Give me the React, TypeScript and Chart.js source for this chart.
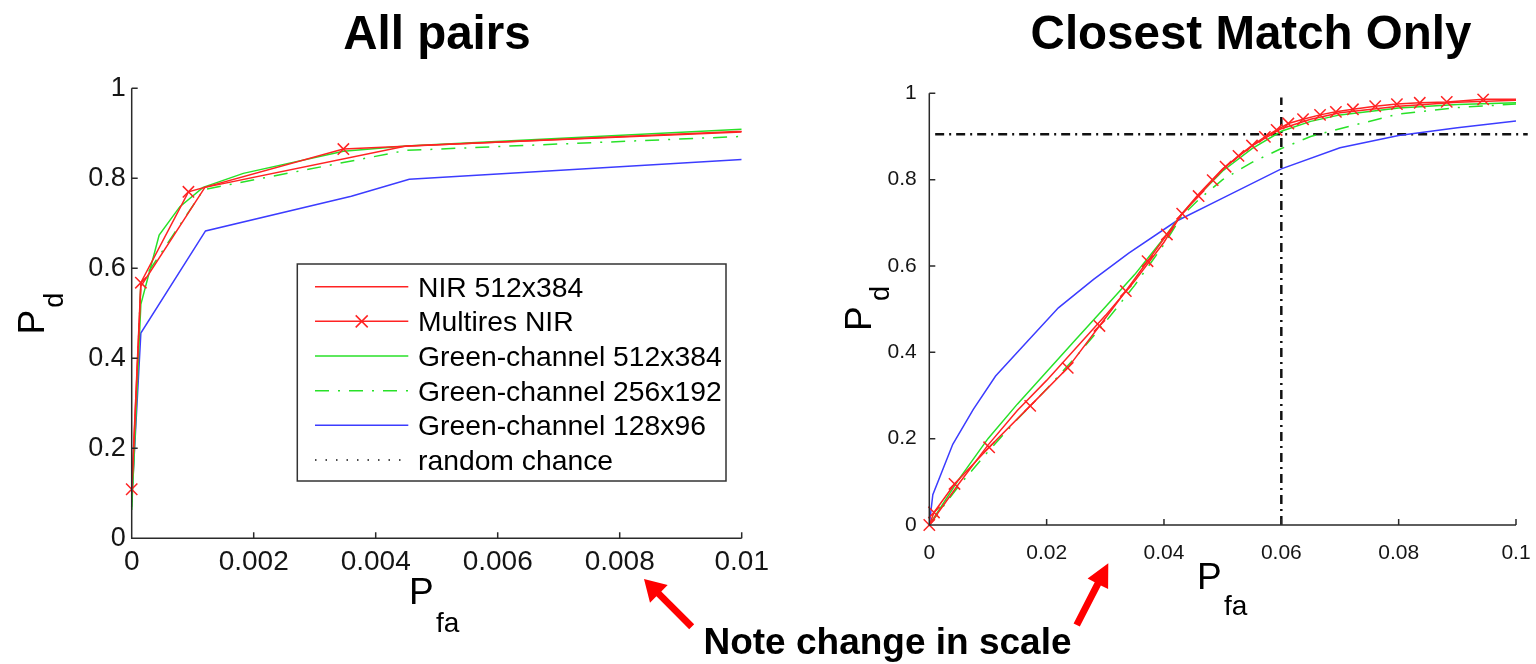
import React, { useEffect, useRef } from "react";
import { Chart, registerables } from "chart.js";

Chart.register(...registerables);

const FONT = "'Liberation Sans', Arial, Helvetica, sans-serif";

// ---------- shared ----------
const SERIES_NAMES = [
  "NIR 512x384",
  "Multires NIR",
  "Green-channel 512x384",
  "Green-channel 256x192",
  "Green-channel 128x96",
  "random chance",
];
const Y_TICKS = [0, 0.2, 0.4, 0.6, 0.8, 1];
const Y_TICK_LABELS = ["0", "0.2", "0.4", "0.6", "0.8", "1"];

// ---------- left panel: All pairs ----------
const LEFT_TITLE = "All pairs";
const LEFT_X_TICKS = [0, 0.002, 0.004, 0.006, 0.008, 0.01];
const LEFT_X_TICK_LABELS = ["0", "0.002", "0.004", "0.006", "0.008", "0.01"];

const L_NIR_X = [0, 0.00015, 0.0012, 0.0045, 0.01];
const L_NIR_Y = [0.1, 0.56, 0.78, 0.872, 0.903];
const L_MULTI_X = [0, 0.00015, 0.00093, 0.00347, 0.0125];
const L_MULTI_Y = [0.109, 0.568, 0.77, 0.865, 0.92];
const L_G512_X = [0, 0.00015, 0.00045, 0.00079, 0.00117, 0.00183, 0.00347, 0.0045, 0.01];
const L_G512_Y = [0.063, 0.52, 0.674, 0.737, 0.78, 0.811, 0.86, 0.872, 0.909];
const L_G256_X = [0, 0.00015, 0.00118, 0.0045, 0.01];
const L_G256_Y = [0.07, 0.567, 0.775, 0.862, 0.893];
const L_G128_X = [0, 0.00015, 0.00121, 0.0036, 0.00455, 0.01];
const L_G128_Y = [0.081, 0.456, 0.683, 0.76, 0.798, 0.842];

// ---------- right panel: Closest Match Only ----------
const RIGHT_TITLE = "Closest Match Only";
const RIGHT_X_TICKS = [0, 0.02, 0.04, 0.06, 0.08, 0.1];
const RIGHT_X_TICK_LABELS = ["0", "0.02", "0.04", "0.06", "0.08", "0.1"];

const R_CURVE_X = [0, 0.005, 0.01, 0.015, 0.02, 0.025, 0.03, 0.035, 0.04, 0.043, 0.046, 0.05, 0.055, 0.06, 0.065, 0.07, 0.08, 0.09, 0.1];
const R_NIR_Y = [0, 0.095, 0.185, 0.265, 0.335, 0.41, 0.485, 0.565, 0.655, 0.72, 0.768, 0.825, 0.878, 0.918, 0.94, 0.955, 0.97, 0.979, 0.984];
const R_G512_Y = [0, 0.105, 0.2, 0.28, 0.355, 0.43, 0.505, 0.58, 0.665, 0.72, 0.765, 0.82, 0.872, 0.912, 0.935, 0.95, 0.966, 0.974, 0.978];
const R_G256_Y = [0, 0.09, 0.17, 0.245, 0.315, 0.39, 0.47, 0.555, 0.65, 0.715, 0.755, 0.8, 0.84, 0.872, 0.9, 0.918, 0.952, 0.967, 0.975];
const R_MULTI_X = [0, 0.0008, 0.0043, 0.0102, 0.0172, 0.0236, 0.029, 0.0335, 0.0372, 0.0405, 0.0431, 0.0459, 0.0483, 0.0505, 0.0527, 0.055, 0.0572, 0.0592, 0.0612, 0.0637, 0.0666, 0.0693, 0.0722, 0.076, 0.0797, 0.0836, 0.0882, 0.0944, 0.1025];
const R_MULTI_Y = [0, 0.029, 0.095, 0.18, 0.276, 0.364, 0.461, 0.542, 0.611, 0.673, 0.721, 0.762, 0.799, 0.83, 0.855, 0.879, 0.899, 0.915, 0.93, 0.94, 0.95, 0.957, 0.963, 0.97, 0.975, 0.978, 0.98, 0.986, 0.986];
const R_G128_X = [0, 0.0006, 0.004, 0.0075, 0.0113, 0.0165, 0.022, 0.028, 0.034, 0.042, 0.05, 0.06, 0.07, 0.08, 0.09, 0.1];
const R_G128_Y = [0, 0.07, 0.187, 0.268, 0.345, 0.422, 0.503, 0.569, 0.63, 0.703, 0.757, 0.825, 0.874, 0.902, 0.92, 0.936];
const R_OPER_H_X = [0.001, 0.102];
const R_OPER_H_Y = [0.905, 0.905];
const R_OPER_V_X = [0.06, 0.06];
const R_OPER_V_Y = [0, 0.99];

const BOTTOM_NOTE = "Note change in scale";

// ---------- styles ----------
const RED = "rgb(255,35,35)";
const GREEN = "rgb(40,225,40)";
const BLUE = "rgb(60,60,255)";
const BLACK = "#111";

const STYLE_NIR = { borderColor: RED, borderWidth: 1.5 };
const STYLE_MULTI = {
  borderColor: RED,
  borderWidth: 1.5,
  pointStyle: "crossRot",
  pointRadius: 8,
  pointBorderColor: RED,
  pointBorderWidth: 1.5,
};
const STYLE_G512 = { borderColor: GREEN, borderWidth: 1.5 };
const STYLE_G256 = { borderColor: GREEN, borderWidth: 1.5, borderDash: [14, 9, 2, 9] };
const STYLE_G128 = { borderColor: BLUE, borderWidth: 1.5 };
const STYLE_CHANCE = { borderColor: BLACK, borderWidth: 1.5, borderDash: [1.5, 9] };
const STYLE_OPER = {
  borderColor: BLACK,
  borderWidth: 2.5,
  borderDash: [9, 5, 2, 5],
  clip: { left: 10, top: 0, right: 14, bottom: 10 },
};

const pts = (xs: number[], ys: number[]) => xs.map((x, i) => ({ x, y: ys[i] }));

const axesPlugin = {
  id: "matlabAxes",
  afterDatasetsDraw(chart: any, _args: any, opts: any) {
    const { ctx, chartArea: a, scales } = chart;
    const len = opts.tickLen || 6;
    ctx.save();
    ctx.strokeStyle = "#2a2a2a";
    ctx.lineWidth = 1.5;
    ctx.beginPath();
    ctx.moveTo(a.left, a.top);
    ctx.lineTo(a.left, a.bottom);
    ctx.lineTo(a.right, a.bottom);
    scales.x.ticks.forEach((t: any) => {
      const p = scales.x.getPixelForValue(t.value);
      ctx.moveTo(p, a.bottom);
      ctx.lineTo(p, a.bottom - len);
    });
    scales.y.ticks.forEach((t: any) => {
      const p = scales.y.getPixelForValue(t.value);
      ctx.moveTo(a.left, p);
      ctx.lineTo(a.left + len, p);
    });
    ctx.stroke();
    ctx.restore();
  },
};

type Panel = {
  series: { label: string; xs: number[]; ys: number[]; style: any }[];
  xMax: number;
  xTicks: number[];
  xLabels: string[];
  padding: any;
  yWidth: number;
  xHeight: number;
  xFont: number;
  yFont: number;
  xPad: number;
  yPad: number;
};

function buildConfig(p: Panel): any {
  return {
    type: "line",
    data: {
      datasets: p.series.map((s) => ({
        label: s.label,
        data: pts(s.xs, s.ys),
        fill: false,
        tension: 0,
        pointRadius: 0,
        pointHoverRadius: 0,
        clip: { left: 10, top: 0, right: 0, bottom: 10 },
        ...s.style,
      })),
    },
    options: {
      responsive: false,
      animation: false,
      events: [],
      layout: { padding: p.padding },
      plugins: {
        legend: { display: false },
        tooltip: { enabled: false },
        title: { display: false },
        matlabAxes: { tickLen: 6 },
      },
      scales: {
        x: {
          type: "linear",
          min: 0,
          max: p.xMax,
          grid: { display: false, drawTicks: false },
          border: { display: false },
          afterBuildTicks: (s: any) => {
            s.ticks = p.xTicks.map((v) => ({ value: v }));
          },
          afterFit: (s: any) => {
            s.height = p.xHeight;
            s.paddingLeft = 0;
            s.paddingRight = 0;
          },
          ticks: {
            autoSkip: false,
            maxRotation: 0,
            minRotation: 0,
            padding: p.xPad,
            color: "#151515",
            font: { family: FONT, size: p.xFont },
            callback: (_v: any, i: number) => p.xLabels[i],
          },
        },
        y: {
          type: "linear",
          min: 0,
          max: 1,
          grid: { display: false, drawTicks: false },
          border: { display: false },
          afterBuildTicks: (s: any) => {
            s.ticks = Y_TICKS.map((v) => ({ value: v }));
          },
          afterFit: (s: any) => {
            s.width = p.yWidth;
            s.paddingTop = 0;
            s.paddingBottom = 0;
          },
          ticks: {
            autoSkip: false,
            padding: p.yPad,
            color: "#151515",
            font: { family: FONT, size: p.yFont },
            callback: (_v: any, i: number) => Y_TICK_LABELS[i],
          },
        },
      },
    },
    plugins: [axesPlugin],
  };
}

const LEFT_PANEL: Panel = {
  series: [
    { label: SERIES_NAMES[1], xs: L_MULTI_X, ys: L_MULTI_Y, style: STYLE_MULTI },
    { label: SERIES_NAMES[0], xs: L_NIR_X, ys: L_NIR_Y, style: STYLE_NIR },
    { label: SERIES_NAMES[2], xs: L_G512_X, ys: L_G512_Y, style: STYLE_G512 },
    { label: SERIES_NAMES[3], xs: L_G256_X, ys: L_G256_Y, style: STYLE_G256 },
    { label: SERIES_NAMES[4], xs: L_G128_X, ys: L_G128_Y, style: STYLE_G128 },
  ],
  xMax: 0.01,
  xTicks: LEFT_X_TICKS,
  xLabels: LEFT_X_TICK_LABELS,
  padding: { left: 0, right: 26.3, top: 88.3, bottom: 65.7 },
  yWidth: 131.7,
  xHeight: 60,
  xFont: 28,
  yFont: 27,
  xPad: 7.5,
  yPad: 6,
};

const RIGHT_PANEL: Panel = {
  series: [
    { label: SERIES_NAMES[1], xs: R_MULTI_X, ys: R_MULTI_Y, style: STYLE_MULTI },
    { label: SERIES_NAMES[0], xs: R_CURVE_X, ys: R_NIR_Y, style: STYLE_NIR },
    { label: SERIES_NAMES[2], xs: R_CURVE_X, ys: R_G512_Y, style: STYLE_G512 },
    { label: SERIES_NAMES[3], xs: R_CURVE_X, ys: R_G256_Y, style: STYLE_G256 },
    { label: SERIES_NAMES[4], xs: R_G128_X, ys: R_G128_Y, style: STYLE_G128 },
    { label: "operating point P_fa", xs: R_OPER_V_X, ys: R_OPER_V_Y, style: STYLE_OPER },
    { label: "operating point P_d", xs: R_OPER_H_X, ys: R_OPER_H_Y, style: STYLE_OPER },
  ],
  xMax: 0.1,
  xTicks: RIGHT_X_TICKS,
  xLabels: RIGHT_X_TICK_LABELS,
  padding: { left: 0, right: 20, top: 93.3, bottom: 79 },
  yWidth: 161.3,
  xHeight: 60,
  xFont: 21,
  yFont: 21,
  xPad: 15.8,
  yPad: 12.6,
};

const LEGEND_STYLES = [STYLE_NIR, STYLE_MULTI, STYLE_G512, STYLE_G256, STYLE_G128, STYLE_CHANCE];

function arrowPoints(tx: number, ty: number, hx: number, hy: number, shaftW: number, headLen: number, headW: number) {
  const dx = hx - tx;
  const dy = hy - ty;
  const len = Math.hypot(dx, dy);
  const ux = dx / len;
  const uy = dy / len;
  const px = -uy;
  const py = ux;
  const bx = hx - ux * headLen;
  const by = hy - uy * headLen;
  const p = [
    [tx + (px * shaftW) / 2, ty + (py * shaftW) / 2],
    [bx + (px * shaftW) / 2, by + (py * shaftW) / 2],
    [bx + (px * headW) / 2, by + (py * headW) / 2],
    [hx, hy],
    [bx - (px * headW) / 2, by - (py * headW) / 2],
    [bx - (px * shaftW) / 2, by - (py * shaftW) / 2],
    [tx - (px * shaftW) / 2, ty - (py * shaftW) / 2],
  ];
  return p.map((q) => q.map((v) => v.toFixed(1)).join(",")).join(" ");
}

function ChartCanvas({ panel, left }: { panel: Panel; left: number }) {
  const ref = useRef<HTMLCanvasElement | null>(null);
  useEffect(() => {
    if (!ref.current) return;
    const chart = new Chart(ref.current, buildConfig(panel));
    return () => chart.destroy();
  }, [panel]);
  return (
    <canvas
      ref={ref}
      width={768}
      height={664}
      style={{ position: "absolute", left, top: 0, width: 768, height: 664 }}
    />
  );
}

export default function App() {
  useEffect(() => {
    document.body.style.margin = "0";
  }, []);

  const legendX = 297.3;
  const legendY = 264;
  const rowBase = 296.7;
  const rowStep = 34.65;

  return (
    <div style={{ position: "absolute", left: 0, top: 0, width: 1536, height: 664, background: "#fff", overflow: "hidden" }}>
      <ChartCanvas panel={LEFT_PANEL} left={0} />
      <ChartCanvas panel={RIGHT_PANEL} left={768} />
      <svg
        width={1536}
        height={664}
        style={{ position: "absolute", left: 0, top: 0, pointerEvents: "none" }}
        fontFamily={FONT}
      >
        {/* titles */}
        <text x={437} y={49} textAnchor="middle" fontSize={47.5} fontWeight="bold" fill="#000">
          {LEFT_TITLE}
        </text>
        <text x={1251} y={49} textAnchor="middle" fontSize={47.5} fontWeight="bold" fill="#000">
          {RIGHT_TITLE}
        </text>

        {/* axis titles left */}
        <text transform="translate(44.3,334.5) rotate(-90)" fontSize={37} fill="#000">P</text>
        <text transform="translate(63.3,307.7) rotate(-90)" fontSize={27} fill="#000">d</text>
        <text x={409} y={604.3} fontSize={37} fill="#000">P</text>
        <text x={436} y={631.7} fontSize={28} fill="#000">fa</text>

        {/* axis titles right */}
        <text transform="translate(871,331) rotate(-90)" fontSize={37} fill="#000">P</text>
        <text transform="translate(889,301) rotate(-90)" fontSize={27} fill="#000">d</text>
        <text x={1197} y={589} fontSize={37} fill="#000">P</text>
        <text x={1224} y={615} fontSize={28} fill="#000">fa</text>

        {/* legend */}
        <rect x={legendX} y={legendY} width={428.7} height={217} fill="#fff" stroke="#333" strokeWidth={1.5} />
        {SERIES_NAMES.map((name, i) => {
          const st: any = LEGEND_STYLES[i];
          const base = rowBase + i * rowStep;
          const ly = base - 10;
          return (
            <g key={name}>
              <line
                x1={315}
                x2={408.3}
                y1={ly}
                y2={ly}
                stroke={st.borderColor}
                strokeWidth={st.borderWidth}
                strokeDasharray={st.borderDash ? st.borderDash.join(" ") : undefined}
              />
              {st.pointStyle === "crossRot" ? (
                <g stroke={st.borderColor} strokeWidth={1.5}>
                  <line x1={355.7} y1={ly - 6} x2={367.7} y2={ly + 6} />
                  <line x1={355.7} y1={ly + 6} x2={367.7} y2={ly - 6} />
                </g>
              ) : null}
              <text x={418} y={base} fontSize={28.3} fill="#000">
                {name}
              </text>
            </g>
          );
        })}

        {/* annotation */}
        <polygon points={arrowPoints(691.7, 626.7, 644, 579, 7, 21, 25)} fill="#ff0000" />
        <polygon points={arrowPoints(1076.7, 625, 1108.3, 563.3, 7, 23, 23)} fill="#ff0000" />
        <text x={887.5} y={654} textAnchor="middle" fontSize={37} fontWeight="bold" fill="#000">
          {BOTTOM_NOTE}
        </text>
      </svg>
    </div>
  );
}
